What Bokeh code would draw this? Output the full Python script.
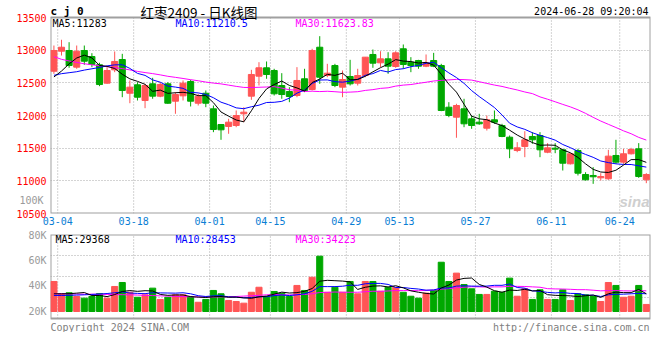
from bokeh.plotting import figure
from bokeh.layouts import column
from bokeh.models import ColumnDataSource, FixedTicker, Label, Range1d, LinearAxis
from bokeh.embed import file_html
from bokeh.resources import INLINE

# ---------------- data ----------------
DATES = ["03-04", "03-05", "03-06", "03-07", "03-08", "03-11", "03-12", "03-13", "03-14", "03-15",
         "03-18", "03-19", "03-20", "03-21", "03-22", "03-25", "03-26", "03-27", "03-28", "03-29",
         "04-01", "04-02", "04-03", "04-08", "04-09", "04-10", "04-11", "04-12", "04-15", "04-16",
         "04-17", "04-18", "04-19", "04-22", "04-23", "04-24", "04-25", "04-26", "04-29", "04-30",
         "05-06", "05-07", "05-08", "05-09", "05-10", "05-13", "05-14", "05-15", "05-16", "05-17",
         "05-20", "05-21", "05-22", "05-23", "05-24", "05-27", "05-28", "05-29", "05-30", "05-31",
         "06-03", "06-04", "06-05", "06-06", "06-07", "06-11", "06-12", "06-13", "06-14", "06-17",
         "06-18", "06-19", "06-20", "06-21", "06-24", "06-25", "06-26", "06-27", "06-28"]

OPEN = [12678, 12984, 12995, 12740, 12995, 12903, 12776, 12495, 12699, 12857,
        12341, 12470, 12230, 12485, 12296, 12485, 12219, 12301, 12520, 12188,
        12341, 12102, 11862, 11832, 11847, 12026, 12296, 12602, 12730, 12689,
        12459, 12367, 12306, 12562, 12398, 13045, 12612, 12765, 12434, 12597,
        12495, 12612, 12934, 12806, 12867, 12750, 13021, 12816, 12842, 12755,
        12842, 12765, 12127, 11974, 12102, 11949, 11898, 11806, 11934, 11847,
        11668, 11464, 11526, 11679, 11694, 11438, 11500, 11475, 11261, 11464,
        11097, 11082, 11046, 11031, 11388, 11286, 11414, 11490, 11016]
HIGH = [13071, 13159, 13122, 13071, 13071, 12954, 12807, 12740, 12980, 12944,
        12536, 12510, 12485, 12577, 12510, 12510, 12357, 12536, 12546, 12332,
        12383, 12153, 11870, 11950, 12077, 12127, 12699, 12816, 12827, 12715,
        12648, 12434, 12740, 12715, 13021, 13214, 12791, 12791, 12689, 12852,
        12715, 12893, 13010, 12984, 12969, 12984, 13087, 12893, 12852, 12934,
        12959, 12791, 12204, 12179, 12256, 12000, 12026, 12000, 12077, 11873,
        11694, 11592, 11760, 11745, 11745, 11577, 11577, 11490, 11423, 11490,
        11132, 11209, 11117, 11475, 11628, 11490, 11505, 11577, 11117]
LOW = [12638, 12918, 12730, 12715, 12776, 12740, 12449, 12485, 12663, 12280,
       12188, 12230, 12112, 12256, 12280, 12179, 12026, 12230, 12138, 12153,
       12127, 11745, 11628, 11720, 11821, 11898, 12240, 12459, 12562, 12306,
       12256, 12204, 12280, 12357, 12383, 12485, 12586, 12434, 12280, 12459,
       12459, 12586, 12730, 12740, 12638, 12730, 12715, 12663, 12715, 12740,
       12740, 12066, 11974, 11659, 11821, 11796, 11858, 11770, 11873, 11668,
       11347, 11438, 11362, 11567, 11362, 11423, 11423, 11158, 11250, 11082,
       11005, 10954, 11005, 11016, 11261, 11261, 11403, 11046, 10964]
CLOSE = [12995, 13045, 12765, 12984, 12831, 12781, 12474, 12689, 12827, 12383,
         12434, 12280, 12459, 12296, 12474, 12188, 12321, 12495, 12219, 12296,
         12188, 11786, 11781, 11898, 12000, 12051, 12628, 12730, 12628, 12332,
         12321, 12291, 12536, 12383, 12995, 12586, 12648, 12459, 12551, 12485,
         12612, 12893, 12801, 12867, 12755, 12959, 12781, 12765, 12755, 12806,
         12755, 12077, 12000, 12153, 11873, 11847, 11873, 11934, 11898, 11679,
         11490, 11505, 11628, 11628, 11475, 11505, 11485, 11270, 11414, 11117,
         11016, 11062, 11066, 11378, 11286, 11414, 11480, 11066, 11097]

MA5 = [12590, 12680, 12790, 12880, 12924, 12881, 12767, 12752, 12720, 12631,
       12561, 12523, 12477, 12370, 12389, 12339, 12348, 12355, 12339, 12304,
       12304, 12197, 12054, 11990, 11931, 11903, 12072, 12261, 12407, 12474,
       12528, 12460, 12422, 12373, 12505, 12558, 12630, 12614, 12648, 12546,
       12551, 12600, 12668, 12732, 12786, 12855, 12833, 12825, 12803, 12813,
       12772, 12632, 12479, 12358, 12172, 11990, 11949, 11936, 11885, 11846,
       11775, 11701, 11640, 11586, 11545, 11548, 11544, 11473, 11430, 11358,
       11260, 11176, 11135, 11128, 11162, 11241, 11325, 11325, 11283]
MA10 = [12615, 12640, 12655, 12670, 12695, 12715, 12735, 12760, 12775, 12777,
        12721, 12645, 12614, 12545, 12510, 12450, 12435, 12416, 12355, 12346,
        12322, 12272, 12204, 12165, 12117, 12104, 12134, 12158, 12199, 12202,
        12216, 12266, 12342, 12390, 12490, 12543, 12545, 12518, 12510, 12526,
        12555, 12615, 12641, 12690, 12666, 12703, 12716, 12747, 12767, 12799,
        12814, 12732, 12652, 12581, 12492, 12381, 12290, 12207, 12122, 12009,
        11882, 11825, 11788, 11736, 11696, 11662, 11623, 11556, 11508, 11452,
        11404, 11360, 11304, 11279, 11260, 11251, 11250, 11230, 11210]
MA30 = [12900, 12860, 12835, 12812, 12792, 12776, 12762, 12748, 12734, 12718,
        12698, 12675, 12657, 12641, 12622, 12600, 12584, 12567, 12548, 12532,
        12512, 12496, 12484, 12465, 12446, 12430, 12428, 12432, 12436, 12442,
        12419, 12394, 12387, 12367, 12372, 12366, 12371, 12364, 12355, 12358,
        12364, 12384, 12396, 12415, 12424, 12450, 12465, 12474, 12492, 12509,
        12528, 12538, 12545, 12553, 12549, 12542, 12517, 12491, 12466, 12445,
        12417, 12391, 12360, 12335, 12285, 12249, 12210, 12170, 12132, 12087,
        12033, 11972, 11915, 11865, 11816, 11765, 11721, 11665, 11624]

# volume, in thousands of lots
VOL_K = [43.4, 33.8, 34.6, 31.7, 30.4, 31.7, 34.0, 30.4, 39.5, 42.6,
         35.0, 31.1, 33.0, 38.2, 29.4, 31.1, 33.0, 33.0, 31.7, 27.2,
         29.4, 36.4, 33.8, 28.6, 27.8, 26.5, 35.0, 38.9, 31.7, 35.6,
         34.3, 31.7, 40.3, 36.4, 46.7, 63.1, 35.0, 38.9, 35.0, 43.4,
         33.8, 43.4, 43.4, 35.8, 38.9, 38.9, 35.0, 31.9, 30.4, 34.3,
         36.4, 58.4, 43.4, 49.9, 41.0, 37.7, 33.3, 33.3, 35.8, 35.0,
         46.0, 31.9, 37.7, 29.4, 36.9, 29.4, 29.4, 36.9, 28.6, 33.8,
         33.0, 31.7, 27.8, 42.6, 40.3, 31.1, 31.9, 40.3, 25.5]
VMA5_K = [33.8, 33.8, 33.9, 34.3, 34.8, 32.4, 32.5, 31.6, 33.2, 35.6,
          36.3, 35.7, 36.2, 36.0, 33.3, 32.6, 32.9, 32.9, 31.6, 31.2,
          30.9, 31.5, 31.7, 31.1, 31.2, 30.6, 30.3, 31.4, 32.0, 33.5,
          35.1, 34.4, 34.7, 35.7, 37.9, 43.6, 44.3, 44.0, 43.7, 43.1,
          37.2, 38.9, 39.8, 40.0, 39.1, 40.1, 38.4, 36.1, 35.0, 34.1,
          33.6, 38.3, 40.6, 44.5, 45.8, 46.1, 41.1, 39.0, 36.2, 35.0,
          36.7, 36.4, 37.3, 36.0, 36.4, 33.1, 32.6, 32.4, 32.2, 31.6,
          32.3, 32.8, 31.0, 33.8, 35.1, 34.7, 34.7, 37.2, 33.8]
VMA10_K = [32.5, 32.5, 32.6, 32.8, 33.0, 33.3, 33.6, 34.0, 34.6, 35.2,
           34.4, 34.1, 33.9, 34.6, 34.5, 34.4, 34.3, 34.6, 33.8, 32.3,
           31.7, 32.2, 32.3, 31.4, 31.2, 30.7, 30.9, 31.5, 31.5, 32.4,
           32.9, 32.4, 33.0, 33.8, 35.7, 39.4, 39.4, 39.4, 39.7, 40.5,
           40.4, 41.6, 41.9, 41.9, 41.1, 38.7, 38.7, 38.0, 37.5, 36.6,
           36.8, 38.3, 38.3, 39.8, 40.0, 39.8, 39.7, 39.8, 40.4, 40.4,
           41.4, 38.7, 38.2, 36.1, 35.7, 34.9, 34.5, 34.8, 34.1, 34.0,
           32.7, 32.7, 31.7, 33.0, 33.4, 33.5, 33.8, 34.1, 33.8]
VMA30_K = [33.8, 33.8, 33.7, 33.6, 33.5, 33.5, 33.4, 33.3, 33.2, 33.1,
           33.0, 32.8, 32.6, 32.4, 32.2, 32.0, 31.8, 31.6, 31.5, 31.4,
           31.3, 31.3, 31.4, 31.5, 31.7, 32.0, 32.3, 32.6, 33.0, 33.3,
           33.0, 32.9, 33.1, 33.3, 33.8, 34.8, 34.9, 35.2, 35.0, 35.0,
           35.0, 35.4, 35.8, 35.7, 36.0, 36.3, 36.3, 36.3, 36.2, 36.5,
           36.7, 37.4, 37.8, 38.5, 38.9, 39.3, 39.2, 39.0, 39.2, 39.2,
           39.6, 39.6, 39.5, 39.2, 38.9, 37.8, 37.6, 37.5, 37.3, 37.0,
           37.0, 36.6, 36.1, 36.3, 36.3, 36.1, 36.0, 36.3, 36.1]

PRICE_TICKS = [10500, 11000, 11500, 12000, 12500, 13000, 13500]
TICK_DATES = ["03-04", "03-18", "04-01", "04-15", "04-29", "05-13", "05-27", "06-11", "06-24"]
VOL_TICKS_K = [20, 40, 60, 80]
VOL_TICK_LABELS = ["20K", "40K", "60K", "80K"]
VOL_EXTRA_TICK_K = [100]
VOL_EXTRA_LABEL = ["100K"]

SYMBOL = "c j 0"
TITLE = "红枣2409 - 日K线图"
STAMP = "2024-06-28 09:20:04"
LEGEND_MAIN = ["MA5:11283", "MA10:11210.5", "MA30:11623.83"]
LEGEND_VOL = ["MA5:29368", "MA10:28453", "MA30:34223"]
COPYRIGHT = "Copyright 2024 SINA.COM"
URL = "http://finance.sina.com.cn"

# ---------------- styles / layout ----------------
RED, GREEN = "#ff5555", "#00a800"
MA_COLORS = ["#000000", "#0000ff", "#ff00ff"]
GRID = "#a8a8a8"
FRAME = "#a0a0a0"
MONO = "DejaVu Sans Mono"
GRAY = "#9a9a9a"

FW = 600               # plot width (px)
PANEL_TOP = 17         # price panel top, px below the main frame top
PANEL_H = 196          # price panel height (px)
VOL_H = 84             # volume panel height (px)
VOL_BASE_GAP = 7       # px between volume bar base and panel bottom
FOOT_H = 14            # footer strip below the volume panel
PX_PER_K = (VOL_H - VOL_BASE_GAP) / (VOL_TICKS_K[-1] - VOL_TICKS_K[0])

n = len(DATES)
xs = list(range(n))
colors = [RED if c >= o else GREEN for o, c in zip(OPEN, CLOSE)]
src = ColumnDataSource(dict(
    x=xs, high=HIGH, low=LOW,
    top=[max(o, c) for o, c in zip(OPEN, CLOSE)],
    bot=[min(o, c) for o, c in zip(OPEN, CLOSE)],
    color=colors, vol=VOL_K))

date_ticks = [DATES.index(d) + 0.5 for d in TICK_DATES]
x_range = Range1d(-0.45, n - 0.45)


def add_text(fig, x, y, text, color, size="10px", align="left", font=MONO, style="normal"):
    fig.add_layout(Label(x=x, y=y, x_units="screen", y_units="screen", text=text,
                         text_color=color, text_font_size=size, text_align=align,
                         text_baseline="middle", text_font=font, text_font_style=style))


def style_axis(ax, color):
    ax.axis_line_color = None
    ax.major_tick_line_color = None
    ax.minor_tick_line_color = None
    ax.major_tick_out = 0
    ax.major_tick_in = 0
    ax.minor_tick_out = 0
    ax.minor_tick_in = 0
    ax.major_label_text_color = color
    ax.major_label_text_font = MONO
    ax.major_label_text_font_size = "10px"


def panel_frame(fig, lo, hi):
    """dotted vertical date lines and grey border of one panel, between values lo and hi"""
    fig.segment(x0=date_ticks, x1=date_ticks, y0=[lo] * len(date_ticks), y1=[hi] * len(date_ticks),
                line_color=GRID, line_dash="1 2", line_width=1)
    fig.quad(left=x_range.start, right=x_range.end, bottom=lo, top=hi,
             fill_color=None, line_color=FRAME, line_width=2)


# ---------------- main candlestick panel ----------------
price_per_px = (PRICE_TICKS[-1] - PRICE_TICKS[0]) / PANEL_H
MAIN_FH = PANEL_TOP + PANEL_H
main = figure(frame_width=FW, frame_height=MAIN_FH, x_range=x_range,
              y_range=Range1d(PRICE_TICKS[0], PRICE_TICKS[-1] + PANEL_TOP * price_per_px),
              output_backend="svg", toolbar_location=None,
              min_border_left=50, min_border_right=10, min_border_top=0, min_border_bottom=16)
main.outline_line_color = None
main.xgrid.visible = False
main.ygrid.ticker = FixedTicker(ticks=PRICE_TICKS)
main.ygrid.grid_line_color = GRID
main.ygrid.grid_line_dash = "1 2"

panel_frame(main, PRICE_TICKS[0], PRICE_TICKS[-1])
main.segment(x0="x", y0="low", x1="x", y1="high", line_color="color", line_width=1, source=src)
main.vbar(x="x", width=0.8, top="top", bottom="bot", fill_color="color", line_color="color",
          line_width=1, source=src)
for series, col in zip([MA30, MA10, MA5], MA_COLORS[::-1]):
    main.line(xs, series, line_color=col, line_width=1)

ya = main.yaxis[0]
ya.ticker = FixedTicker(ticks=PRICE_TICKS)
ya.major_label_standoff = 4
style_axis(ya, "#ff0000")

xa = main.xaxis[0]
xa.ticker = FixedTicker(ticks=date_ticks)
xa.major_label_overrides = {t: d for t, d in zip(date_ticks, TICK_DATES)}
xa.major_label_standoff = 3
style_axis(xa, "#0a7ed4")

# the "100K" volume label beside the bottom of the price panel: a second left axis,
# stacked outside the price axis and pulled back into the same label column
ext_start = VOL_EXTRA_TICK_K[0] - 13 / PX_PER_K
main.extra_y_ranges = {"volx": Range1d(ext_start, ext_start + MAIN_FH / PX_PER_K)}
vx = LinearAxis(y_range_name="volx", ticker=FixedTicker(ticks=VOL_EXTRA_TICK_K),
                major_label_overrides={t: s for t, s in zip(VOL_EXTRA_TICK_K, VOL_EXTRA_LABEL)},
                axis_label=" ", axis_label_text_font_size="10px", axis_label_standoff=0)
style_axis(vx, GRAY)
vx.major_label_standoff = -30
main.add_layout(vx, "left")

# header and legends
add_text(main, 0, PANEL_H + 6, SYMBOL, "#000000", size="11px", style="bold")
add_text(main, 90, PANEL_H + 6, TITLE, "#000000", size="13.5px", font="Noto Sans CJK SC")
add_text(main, 598, PANEL_H + 6, STAMP, "#000000", align="right")
for txt, col, xp in zip(LEGEND_MAIN, MA_COLORS, [2, 125, 245]):
    add_text(main, xp, PANEL_H - 6, txt, col)
add_text(main, 569, 12, "sina", "#cfcfcf", size="15px", font="Liberation Sans", style="bold italic")

# ---------------- volume panel ----------------
VOL_BASE = VOL_TICKS_K[0]
VOL_TOP = VOL_TICKS_K[-1]
v_panel_lo = VOL_TOP - VOL_H / PX_PER_K
v_range_lo = VOL_TOP - (VOL_H + FOOT_H) / PX_PER_K
vol = figure(frame_width=FW, frame_height=VOL_H + FOOT_H, x_range=x_range,
             y_range=Range1d(v_range_lo, VOL_TOP), x_axis_location=None,
             output_backend="svg", toolbar_location=None,
             min_border_left=50, min_border_right=10, min_border_top=5, min_border_bottom=0)
vol.outline_line_color = None
vol.xgrid.visible = False
vol.ygrid.ticker = FixedTicker(ticks=[v_panel_lo + (VOL_TOP - v_panel_lo) * k / 4 for k in (1, 2, 3)])
vol.ygrid.grid_line_color = GRID
vol.ygrid.grid_line_dash = "1 2"

panel_frame(vol, v_panel_lo, VOL_TOP)
vol.vbar(x="x", width=0.8, top="vol", bottom=VOL_BASE, fill_color="color", line_color="color",
         line_width=1, source=src)
for series, col in zip([VMA30_K, VMA10_K, VMA5_K], MA_COLORS[::-1]):
    vol.line(xs, series, line_color=col, line_width=1)

vy = vol.yaxis[0]
vy.ticker = FixedTicker(ticks=VOL_TICKS_K)
vy.major_label_overrides = {t: s for t, s in zip(VOL_TICKS_K, VOL_TICK_LABELS)}
vy.major_label_standoff = 4
style_axis(vy, GRAY)

for txt, col, xp in zip(LEGEND_VOL, MA_COLORS, [5, 125, 245]):
    add_text(vol, xp, VOL_H + FOOT_H - 4.5, txt, col)
add_text(vol, 0, FOOT_H - 8.5, COPYRIGHT, "#808080")
add_text(vol, 599, FOOT_H - 8.5, URL, "#808080", align="right")

layout = column(main, vol, spacing=0)
open("out.html", "w").write(file_html(layout, INLINE))
